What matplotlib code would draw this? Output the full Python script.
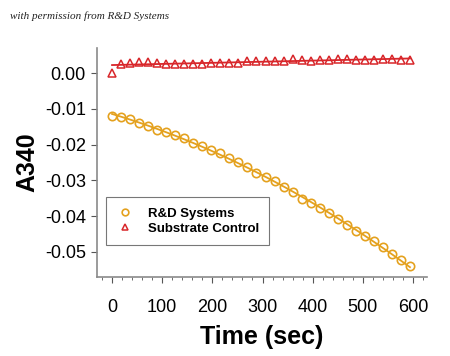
import numpy as np
import matplotlib
matplotlib.use('Agg')
import matplotlib.pyplot as plt
from matplotlib.ticker import MultipleLocator, FuncFormatter

plt.rcParams['font.family'] = ['Liberation Sans', 'DejaVu Sans']

# time points (sec), one reading every 18 s
time_sec = [0, 18, 36, 54, 72, 90, 108, 126, 144, 162, 180, 198, 216, 234, 252, 270, 288,
            306, 324, 342, 360, 378, 396, 414, 432, 450, 468, 486, 504, 522, 540, 558, 576, 594]

rnd_systems = [-0.0120, -0.0123, -0.0128, -0.0139, -0.0147, -0.0159, -0.0165, -0.0174,
               -0.0182, -0.0196, -0.0204, -0.0215, -0.0224, -0.0237, -0.0249, -0.0262,
               -0.0278, -0.0290, -0.0302, -0.0319, -0.0332, -0.0351, -0.0363, -0.0377,
               -0.0392, -0.0408, -0.0426, -0.0441, -0.0456, -0.0470, -0.0487, -0.0505,
               -0.0522, -0.0538]

substrate_ctrl = [0.0000, 0.0025, 0.0027, 0.0030, 0.0032, 0.0029, 0.0025, 0.0025,
                  0.0026, 0.0026, 0.0026, 0.0029, 0.0029, 0.0029, 0.0029, 0.0034,
                  0.0033, 0.0033, 0.0033, 0.0034, 0.0038, 0.0036, 0.0035, 0.0036,
                  0.0036, 0.0040, 0.0038, 0.0036, 0.0036, 0.0037, 0.0038, 0.0040,
                  0.0037, 0.0036]

orange = '#E4A11E'
red = '#D8262A'

t = np.array(time_sec)
# fitted curves
fit_rnd = np.polyval(np.polyfit(t, rnd_systems, 2), t)
fit_ctrl = np.polyval(np.polyfit(t, substrate_ctrl, 1), t)

fig = plt.figure(figsize=(4.5, 3.56), dpi=100)
ax = fig.add_axes([97 / 450, 1 - 277 / 356, 330 / 450, 229 / 356])

ax.plot(t, fit_rnd, color=orange, lw=1.3, zorder=2)
ax.plot(t, fit_ctrl, color=red, lw=1.3, zorder=2)
ax.plot(t, rnd_systems, ls='none', marker='o', ms=6.0, mfc='none', mec=orange, mew=1.2,
        label='R&D Systems', zorder=3)
ax.plot(t, substrate_ctrl, ls='none', marker='^', ms=5.5, mfc='none', mec=red, mew=1.1,
        label='Substrate Control', zorder=3)

ax.set_xlim(-30, 628)
ax.set_ylim(-0.0570, 0.0070)
ax.xaxis.set_major_locator(MultipleLocator(100))
ax.xaxis.set_minor_locator(MultipleLocator(20))
ax.yaxis.set_major_locator(MultipleLocator(0.01))
ax.yaxis.set_major_formatter(FuncFormatter(lambda v, p: '%.2f' % (0.0 if abs(v) < 1e-9 else v)))

for s in ['top', 'right']:
    ax.spines[s].set_visible(False)
for s in ['left', 'bottom']:
    ax.spines[s].set_color('#8a8a8a')
    ax.spines[s].set_linewidth(1.2)

ax.tick_params(axis='both', which='major', labelsize=13, color='#555555', length=4, width=0.8)
ax.tick_params(axis='x', which='minor', color='#555555', length=2.5, width=0.6)
ax.tick_params(axis='x', pad=12)
ax.tick_params(axis='y', pad=4)

ax.set_xlabel('Time (sec)', fontsize=18, fontweight='bold', labelpad=6)
ax.set_ylabel('A340', fontsize=18, fontweight='bold', labelpad=4)

leg = ax.legend(loc='lower left', bbox_to_anchor=(9 / 330, 0.14), borderaxespad=0,
                prop={'weight': 'bold', 'size': 9.5},
                frameon=True, fancybox=False, edgecolor='#555555', handlelength=1.4,
                handletextpad=1.0, borderpad=0.75, labelspacing=0.25, markerscale=0.8)
leg.get_frame().set_linewidth(0.8)

fig.text(0.022, 0.948, 'with permission from R&D Systems', fontsize=8, style='italic',
         family='Liberation Serif', color='#222222')

fig.savefig('out.png', dpi=100)
